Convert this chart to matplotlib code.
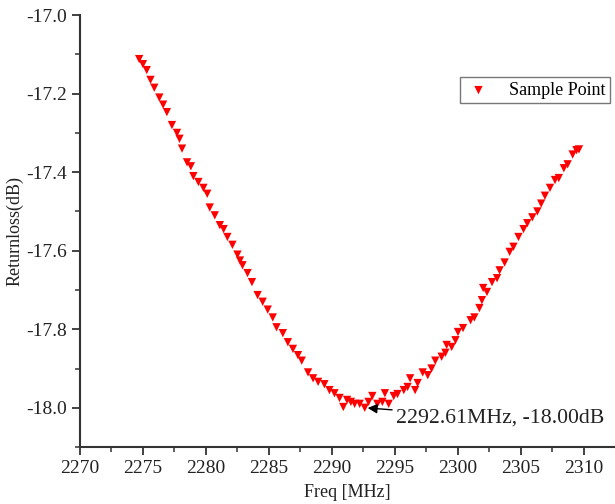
import matplotlib
matplotlib.use("Agg")
from matplotlib import pyplot as plt
from matplotlib.ticker import MultipleLocator

freq = [2274.7, 2275.0, 2275.3, 2275.6, 2275.9, 2276.3, 2276.6, 2276.9, 2277.3, 2277.7,
        2277.9, 2278.1, 2278.5, 2278.8, 2279.0, 2279.4, 2279.8, 2280.1, 2280.3, 2280.7,
        2281.1, 2281.4, 2281.7, 2282.1, 2282.5, 2282.7, 2282.9, 2283.3, 2283.65, 2284.1,
        2284.5, 2284.9, 2285.3, 2285.6, 2286.1, 2286.5, 2286.9, 2287.3, 2287.6, 2288.1,
        2288.5, 2288.9, 2289.4, 2289.8, 2290.2, 2290.6, 2290.9, 2291.2, 2291.5, 2291.8,
        2292.2, 2292.6, 2292.9, 2293.2, 2293.6, 2294.0, 2294.2, 2294.5, 2294.9, 2295.2,
        2295.7, 2296.0, 2296.2, 2296.6, 2296.8, 2297.2, 2297.6, 2297.9, 2298.2, 2298.7,
        2299.0, 2299.1, 2299.5, 2299.8, 2300.0, 2300.4, 2301.0, 2301.3, 2301.7, 2301.9,
        2302.0, 2302.3, 2302.7, 2303.1, 2303.3, 2303.7, 2304.1, 2304.4, 2304.8, 2305.2,
        2305.5, 2305.9, 2306.3, 2306.6, 2306.9, 2307.3, 2307.7, 2308.0, 2308.4, 2308.7,
        2309.1, 2309.4, 2309.6]
rloss = [-17.112, -17.125, -17.14, -17.165, -17.185, -17.21, -17.228, -17.247, -17.28, -17.30,
         -17.315, -17.34, -17.375, -17.385, -17.41, -17.425, -17.44, -17.455, -17.49, -17.51,
         -17.535, -17.545, -17.565, -17.585, -17.61, -17.625, -17.637, -17.657, -17.68, -17.713,
         -17.73, -17.75, -17.77, -17.795, -17.81, -17.833, -17.85, -17.866, -17.88, -17.91,
         -17.925, -17.934, -17.94, -17.955, -17.963, -17.975, -17.998, -17.98, -17.985, -17.99,
         -17.99, -18.0, -17.985, -17.97, -17.99, -17.985, -17.963, -17.99, -17.97, -17.965,
         -17.955, -17.947, -17.925, -17.955, -17.937, -17.91, -17.917, -17.9, -17.88, -17.87,
         -17.86, -17.84, -17.845, -17.828, -17.807, -17.797, -17.777, -17.77, -17.746, -17.726,
         -17.695, -17.705, -17.68, -17.67, -17.65, -17.63, -17.603, -17.59, -17.565, -17.545,
         -17.53, -17.515, -17.50, -17.48, -17.46, -17.44, -17.42, -17.415, -17.39, -17.38,
         -17.355, -17.344, -17.342]

min_freq = 2292.61
min_rloss = -18.00

plt.rcParams['font.family'] = ['Liberation Serif', 'DejaVu Serif']

fig = plt.figure(figsize=(6.15, 5.04), dpi=100)
ax = fig.add_axes([0.130, 0.113, 0.870, 0.857])

ax.scatter(freq, rloss, marker='v', s=36, color='#ff0000', edgecolors='none',
           label='Sample Point', zorder=3)

ax.annotate('%.2fMHz, %.2fdB' % (min_freq, min_rloss),
            xy=(min_freq, min_rloss), xytext=(2295.1, -18.026),
            fontsize=15.7, va='center', ha='left', color='#222222',
            arrowprops=dict(arrowstyle='-|>', color='black', lw=1.0,
                            mutation_scale=14, shrinkA=1, shrinkB=2))

ax.set_xlim(2270, 2312.46)
ax.set_ylim(-18.1, -17.0)
ax.xaxis.set_major_locator(MultipleLocator(5))
ax.xaxis.set_minor_locator(MultipleLocator(2.5))
ax.yaxis.set_major_locator(MultipleLocator(0.2))
ax.yaxis.set_minor_locator(MultipleLocator(0.1))
ax.yaxis.set_major_formatter(lambda v, p: '%.1f' % v)

for side in ['top', 'right']:
    ax.spines[side].set_visible(False)
for side in ['left', 'bottom']:
    ax.spines[side].set_linewidth(1.5)
    ax.spines[side].set_color('#333333')

ax.tick_params(which='major', direction='out', length=6, width=1.3,
               colors='#333333', labelsize=14, labelcolor='#222222')
ax.tick_params(which='minor', direction='out', length=3.5, width=1.1, colors='#333333')

ax.set_xlabel('Freq [MHz]', fontsize=13, color='#222222', labelpad=5)
ax.set_ylabel('Returnloss(dB)', fontsize=13, color='#222222', labelpad=2)

leg = ax.legend(loc='upper right', bbox_to_anchor=(0.991, 0.856), fontsize=13,
                frameon=True, fancybox=False, edgecolor='#555555',
                handletextpad=0.9, handlelength=1.6, borderpad=0.25,
                borderaxespad=0, markerscale=1.0)
leg.get_frame().set_linewidth(1.0)

fig.savefig('out.png', dpi=100)
